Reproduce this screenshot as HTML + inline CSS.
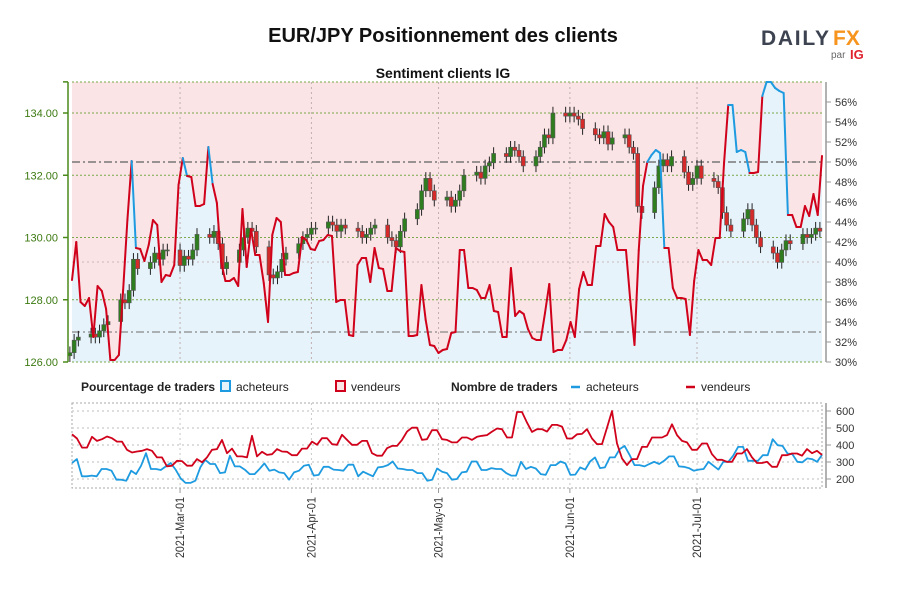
<!DOCTYPE html>
<html><head><meta charset="utf-8">
<style>
body{margin:0;background:#fff;width:900px;height:600px;overflow:hidden;font-family:"Liberation Sans",sans-serif;}
svg{display:block}
text{font-family:"Liberation Sans",sans-serif;}
</style></head>
<body>
<svg id="chart" width="900" height="600" viewBox="0 0 900 600" xmlns="http://www.w3.org/2000/svg">
  <text x="443" y="42" text-anchor="middle" font-size="20" font-weight="bold" fill="#111">EUR/JPY Positionnement des clients</text>
  <text x="443" y="78" text-anchor="middle" font-size="14" font-weight="bold" fill="#111">Sentiment clients IG</text>
  <g>
    <text x="761" y="45" font-size="21" font-weight="bold" fill="#3d4350" textLength="68" lengthAdjust="spacing">DAILY</text>
    <text x="833" y="45" font-size="21" font-weight="bold" fill="#f7941d">FX</text>
    <text x="831" y="58" font-size="10" fill="#666">par</text>
    <text x="850" y="59" font-size="13" font-weight="bold" fill="#e0212e">IG</text>
  </g>
  <g id="main"></g>
  <g id="legend" font-size="12" fill="#222">
    <text x="81" y="391" font-weight="bold" font-size="12">Pourcentage de traders</text>
    <rect x="221" y="381" width="9" height="10" fill="#e6f3fb" stroke="#1e9be0" stroke-width="2"/>
    <text x="236" y="391">acheteurs</text>
    <rect x="336" y="381" width="9" height="10" fill="#fbe4e6" stroke="#d0021b" stroke-width="2"/>
    <text x="351" y="391">vendeurs</text>
    <text x="451" y="391" font-weight="bold" font-size="12">Nombre de traders</text>
    <line x1="571" y1="387" x2="580" y2="387" stroke="#1e9be0" stroke-width="2.5"/>
    <text x="586" y="391">acheteurs</text>
    <line x1="686" y1="387" x2="695" y2="387" stroke="#d0021b" stroke-width="2.5"/>
    <text x="701" y="391">vendeurs</text>
  </g>
  <g id="bottom"></g>
</svg>
<script>
// ---- data ----
const priceTicks = [126, 128, 130, 132, 134];
const pctTicks = [32,34,36,38,40,42,44,46,48,50,52,54,56];
const countTicks = [200,300,400,500,600];
const monthLabels = ["2021-Mar-01","2021-Apr-01","2021-May-01","2021-Jun-01","2021-Jul-01"];
const monthOffsets = [0, 31, 61, 92, 122]; // days from 2021-03-01
const startOffset = -25.5, endOffset = 151.5; // x-domain in days from Mar-01
// daily closes (weekdays Feb 3 .. Jul 30)
const closes = [126.3,126.7,126.8,126.9,126.8,127.0,127.2,127.3,128.0,127.9,128.3,129.3,129.0,129.2,129.5,129.3,129.6,129.6,
129.1,129.4,129.3,129.6,130.1,130.0,130.2,129.8,129.0,129.2,129.6,130.0,130.3,130.2,129.7,128.8,128.7,128.9,129.3,129.5,129.8,130.0,130.1,
130.3,130.3,130.5,130.4,130.2,130.4,130.3,130.2,130.0,130.1,130.3,130.4,130.0,129.9,129.7,130.2,130.6,130.9,131.5,131.9,131.5,131.2,
131.3,131.0,131.2,131.5,132.0,132.1,131.9,132.3,132.4,132.7,132.6,132.9,132.8,132.6,132.3,132.6,132.9,133.3,133.2,134.0,133.9,
134.0,133.9,133.8,133.5,133.3,133.2,133.4,133.0,133.2,133.3,132.9,132.7,131.0,130.8,131.6,132.3,132.5,132.3,132.6,132.1,131.7,131.9,
132.3,131.9,131.8,131.6,130.8,130.4,130.2,130.6,130.9,130.4,130.0,129.7,129.5,129.2,129.6,129.9,129.8,130.1,130.0,130.1,130.3,130.2];
// % of traders net long (acheteurs)
const longPct = [38.2,42.0,36.0,35.6,36.4,32.5,37.6,37.1,35.3,30.2,30.2,30.7,37.2,44.2,50.1,41.4,41.3,40.1,41.7,44.2,43.7,38.0,38.7,38.6,39.7,47.7,50.4,48.6,48.5,45.6,45.6,45.8,51.5,47.8,45.9,40.0,38.1,38.1,38.4,37.6,45.3,39.5,43.3,40.7,40.7,37.9,34.0,42.7,44.4,44.0,38.7,38.7,38.9,39.0,42.5,42.2,41.3,41.2,42.1,42.2,42.7,42.6,36.0,36.2,36.2,32.7,32.6,39.7,
40.4,40.4,38.0,41.4,39.4,39.3,37.1,37.1,41.4,41.1,41.0,32.6,32.6,32.7,37.7,34.2,31.7,31.6,30.9,31.2,31.3,32.9,33.0,41.2,41.2,37.4,37.4,37.2,36.4,36.4,37.7,35.1,35.0,32.5,32.5,39.4,34.6,35.1,34.8,33.3,32.4,32.2,32.2,34.9,37.8,31.0,31.2,31.2,32.2,34.0,32.5,37.3,39.0,37.7,37.7,41.6,41.6,44.8,44.0,43.5,41.2,41.2,41.2,36.2,31.7,41.2,47.6,50.0,50.7,51.2,50.9,41.4,41.4,37.4,36.4,36.4,36.3,32.7,38.1,41.2,40.2,40.2,39.7,42.4,42.4,49.8,55.7,55.7,51.0,51.2,51.0,48.9,48.9,49.0,56.6,58.2,58.2,57.4,57.1,56.9,44.7,44.7,43.5,43.5,45.6,44.6,46.8,44.7,50.6];
const refLine = 33; // lower dash-dot reference (%)
// numbers of traders
const sellersCount = [463,438,385,385,448,424,434,450,440,420,420,372,356,362,366,376,366,327,327,274,278,307,305,278,278,317,298,327,372,376,430,352,379,333,333,327,454,333,360,342,346,376,362,360,340,340,379,379,420,401,440,440,405,401,460,430,401,401,424,424,352,337,337,381,395,395,430,479,502,502,430,
434,487,487,434,430,415,415,444,444,430,448,454,458,479,497,493,444,444,594,594,532,477,493,493,479,518,518,508,438,438,463,465,493,438,405,405,502,600,409,321,282,317,317,389,389,444,444,444,458,522,458,424,415,372,372,409,409,346,313,313,301,301,350,350,376,327,294,294,301,272,272,340,340,350,350,337,376,352,366,342];
const buyersCount = [294,317,216,216,220,216,259,259,249,196,196,190,249,229,278,352,259,259,253,274,294,255,204,177,177,190,268,313,288,288,235,239,337,274,274,255,229,229,259,292,249,255,239,235,196,239,249,278,284,220,224,272,272,255,253,249,284,284,216,243,229,216,268,272,282,303,262,259,253,253,235,235,190,196,262,243,235,196,
200,239,243,303,303,253,253,264,259,259,235,220,220,301,259,272,262,229,224,282,282,303,292,224,226,268,255,303,327,264,268,327,327,376,395,342,282,282,274,288,301,288,307,333,333,274,272,264,249,255,259,301,278,255,301,301,337,389,389,307,307,307,340,340,434,399,395,350,346,301,298,321,317,301,342];

// ---- scales ----
const X0 = 72, X1 = 822;
const xDay = d => X0 + (d - startOffset) / (endOffset - startOffset) * (X1 - X0);
const yPrice = p => 362 - (p - 126) * (362 - 113) / 8;
const yPct = v => 362 - (v - 30) * 10;
const yCnt = v => 479 - (v - 200) * 0.17;
const xIdx = (i, n) => X0 + i * (X1 - X0) / (n - 1);
const NS = "http://www.w3.org/2000/svg";
function mk(tag, attrs, parent) { const e = document.createElementNS(NS, tag); for (const k in attrs) e.setAttribute(k, attrs[k]); parent.appendChild(e); return e; }

const mainG = document.getElementById('main');
const bottomG = document.getElementById('bottom');

// background + fill
const bg = mk('rect', {x: X0, y: 82, width: X1 - X0, height: 280, fill: '#fbe4e6'}, mainG);


const areaPts = longPct.map((v, i) => xIdx(i, longPct.length).toFixed(1) + ',' + Math.max(82, yPct(v)).toFixed(1));
const area = mk('polygon', {points: X0 + ',362 ' + areaPts.join(' ') + ' ' + X1 + ',362', fill: '#e6f3fb'}, mainG);



// grid
pctTicks.forEach(v => { if (v % 10 === 0 && v !== 50) { const g = mk('line', {x1: X0, x2: X1, y1: yPct(v), y2: yPct(v), stroke: '#c8b8b8', 'stroke-dasharray': '2,3'}, mainG);   } });
priceTicks.forEach(p => { const g = mk('line', {x1: X0, x2: X1, y1: yPrice(p), y2: yPrice(p), stroke: '#7aa84a', 'stroke-dasharray': '2,2'}, mainG);   });
const topBorder = mk('line', {x1: X0, x2: X1, y1: 82, y2: 82, stroke: '#7aa84a', 'stroke-dasharray': '2,2'}, mainG);


monthOffsets.forEach(d => {
  const g = mk('line', {x1: xDay(d), x2: xDay(d), y1: 82, y2: 362, stroke: '#c0b0b0', 'stroke-dasharray': '2,3'}, mainG);
  
  
  const g2 = mk('line', {x1: xDay(d), x2: xDay(d), y1: 403, y2: 488, stroke: '#c8c8c8', 'stroke-dasharray': '2,3'}, bottomG);
  
  
});
const l50 = mk('line', {x1: X0, x2: X1, y1: yPct(50), y2: yPct(50), stroke: '#777', 'stroke-width': 1.5, 'stroke-dasharray': '8,3,2,3'}, mainG);


const lr = mk('line', {x1: X0, x2: X1, y1: yPct(refLine), y2: yPct(refLine), stroke: '#888', 'stroke-width': 1.2, 'stroke-dasharray': '8,3,2,3'}, mainG);



// candles
const days = [];
for (let d = -26; days.length < closes.length; d++) { const dt = new Date(Date.UTC(2021, 2, 1 + d)); const wd = dt.getUTCDay(); if (wd !== 0 && wd !== 6) days.push(d); }
closes.forEach((c, i) => {
  const o = i === 0 ? c - 0.1 : closes[i - 1];
  const hi = Math.max(o, c) + 0.2, lo = Math.min(o, c) - 0.2;
  const x = xDay(days[i]);
  const up = c >= o;
  const g = mk('g', {}, mainG);
  
  
  mk('line', {x1: x, x2: x, y1: yPrice(hi), y2: yPrice(lo), stroke: '#222', 'stroke-width': 1}, g);
  const yt = yPrice(Math.max(o, c)), h = Math.max(1, yPrice(Math.min(o, c)) - yt);
  mk('rect', {x: x - 2, y: yt, width: 4, height: h, fill: up ? '#2e7d1e' : '#d42a2a', stroke: '#555', 'stroke-width': 0.6}, g);
});

// sentiment line segments
for (let i = 0; i < longPct.length - 1; i++) {
  const n = longPct.length;
  const s = mk('line', {x1: xIdx(i, n), y1: Math.max(82, yPct(longPct[i])), x2: xIdx(i + 1, n), y2: Math.max(82, yPct(longPct[i + 1])), stroke: longPct[i] >= 50 ? '#1e9be0' : '#d0021b', 'stroke-width': 2, 'stroke-linecap': 'round'}, mainG);
  
  
}

// left axis
const la = mk('line', {x1: 68, x2: 68, y1: 82, y2: 362, stroke: '#4a8a1a', 'stroke-width': 1.5}, mainG);


priceTicks.concat([135]).forEach(p => { mk('line', {x1: 63, x2: 68, y1: yPrice(p), y2: yPrice(p), stroke: '#4a8a1a', 'stroke-width': 1.5}, mainG); });
priceTicks.forEach(p => {
  const t = mk('text', {x: 58, y: yPrice(p) + 4, 'text-anchor': 'end', 'font-size': 11, fill: '#3d7a12'}, mainG);
  t.textContent = p.toFixed(2);
  
  
});
// right axis
const ra = mk('line', {x1: 826, x2: 826, y1: 82, y2: 362, stroke: '#999', 'stroke-width': 1.5}, mainG);


pctTicks.concat([30]).forEach(v => {
  mk('line', {x1: 826, x2: 831, y1: yPct(v), y2: yPct(v), stroke: '#999'}, mainG);
  const t = mk('text', {x: 835, y: yPct(v) + 4, 'font-size': 11, fill: '#333'}, mainG);
  t.textContent = v + '%';
  
  
});

// bottom panel
const bb = mk('rect', {x: X0, y: 403, width: X1 - X0, height: 85, fill: 'none', stroke: '#aaa', 'stroke-dasharray': '2,2'}, bottomG);


countTicks.forEach(v => {
  const g = mk('line', {x1: X0, x2: X1, y1: yCnt(v), y2: yCnt(v), stroke: '#d4d4d4', 'stroke-dasharray': '2,3', 'stroke-width': 1.5}, bottomG);
  
  
  mk('line', {x1: 826, x2: 831, y1: yCnt(v), y2: yCnt(v), stroke: '#999'}, bottomG);
  const t = mk('text', {x: 836, y: yCnt(v) + 4, 'font-size': 11, fill: '#333'}, bottomG);
  t.textContent = v;
  
  
});
const cra = mk('line', {x1: 826, x2: 826, y1: 403, y2: 488, stroke: '#999', 'stroke-width': 1.5}, bottomG);


function series(arr, color, name) {
  const p = arr.map((v, i) => xIdx(i, arr.length).toFixed(1) + ',' + yCnt(v).toFixed(1)).join(' ');
  const e = mk('polyline', {points: p, fill: 'none', stroke: color, 'stroke-width': 1.8, 'stroke-linejoin': 'round'}, bottomG);
  
  
}
series(buyersCount, '#1e9be0', 'buyers-count-line');
series(sellersCount, '#d0021b', 'sellers-count-line');

// x labels
monthOffsets.forEach((d, i) => {
  const x = xDay(d);
  mk('line', {x1: x, x2: x, y1: 488, y2: 493, stroke: '#999'}, bottomG);
  const t = mk('text', {x: 0, y: 0, 'text-anchor': 'end', 'font-size': 12, fill: '#333', textLength: 61, lengthAdjust: 'spacingAndGlyphs', transform: 'translate(' + (x + 4) + ',497) rotate(-90)'}, bottomG);
  t.textContent = monthLabels[i];
  
  
});
</script>
</body></html>
